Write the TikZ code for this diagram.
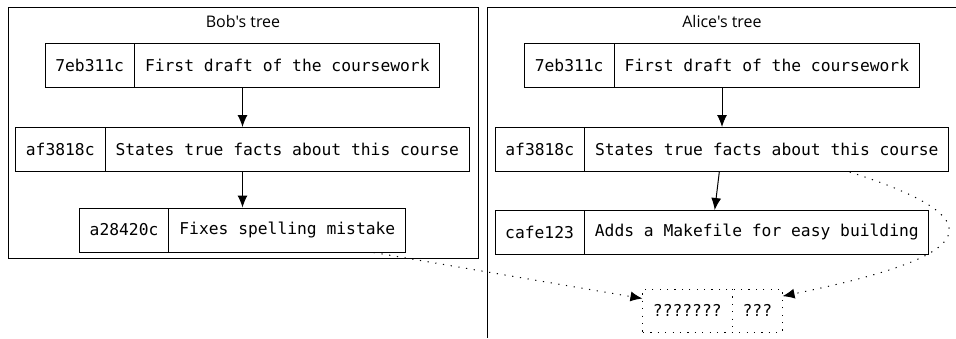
\documentclass[tikz,border=0pt]{standalone}
\usepackage{fontspec}
\setmonofont{DejaVu Sans Mono}
\newfontfamily\titlefont{Open Sans}
\usetikzlibrary{arrows.meta,shapes.multipart}

\tikzset{
  commit/.style={
    draw, line width=1pt,
    rectangle split, rectangle split horizontal, rectangle split parts=2,
    minimum height=44pt, inner xsep=10pt, inner ysep=0pt,
    font=\ttfamily\fontsize{16.3}{19}\selectfont
  },
  unknown/.style={commit, minimum height=43pt,
    dash pattern=on 1.2pt off 6.2pt},
  frame/.style={draw, line width=1pt},
  title/.style={font=\titlefont\fontsize{16}{18}\selectfont},
  parent/.style={line width=1pt, -{Latex[length=12pt,width=10pt]}},
  merge/.style={parent, dash pattern=on 1.2pt off 6.6pt}
}

\begin{document}
\begin{tikzpicture}[x=1pt,y=-1pt]
  \useasboundingbox (0,0) rectangle (956,338);

  % Bob's repository
  \draw[frame] (8,7) rectangle (478,258);
  \node[title] (bobtitle) at (243,21) {Bob's tree};
  \node[commit] (b1) at (242.5,65)
    {7eb311c \nodepart{two} First draft of the coursework};
  \node[commit] (b2) at (242.5,149.5)
    {af3818c \nodepart{two} States true facts about this course};
  \node[commit] (b3) at (242.5,230)
    {a28420c \nodepart{two} Fixes spelling mistake};
  \draw[parent] (b1) -- (b2);
  \draw[parent] (b2) -- (b3);

  % Alice's repository (frame runs off the page)
  \draw[frame] (956,7) -- (487,7) -- (487,338);
  \node[title] (alicetitle) at (722,21) {Alice's tree};
  \node[commit] (a1) at (722,65)
    {7eb311c \nodepart{two} First draft of the coursework};
  \node[commit] (a2) at (722,149.5)
    {af3818c \nodepart{two} States true facts about this course};
  \node[commit] (a3) at (712,232.5)
    {cafe123 \nodepart{two} Adds a Makefile for easy building};
  \draw[parent] (a2) -- (a3);
  \draw[parent] (a1) -- (a2);

  % the commit that would join both histories
  \node[unknown] (q) at (712.5,310.5)
    {??????? \nodepart{two} ???};
  \draw[merge] (b3) -- (q);
  \draw[merge] (a2.-10.8) .. controls (1016,225) and (958,260) .. (q);
\end{tikzpicture}
\end{document}
